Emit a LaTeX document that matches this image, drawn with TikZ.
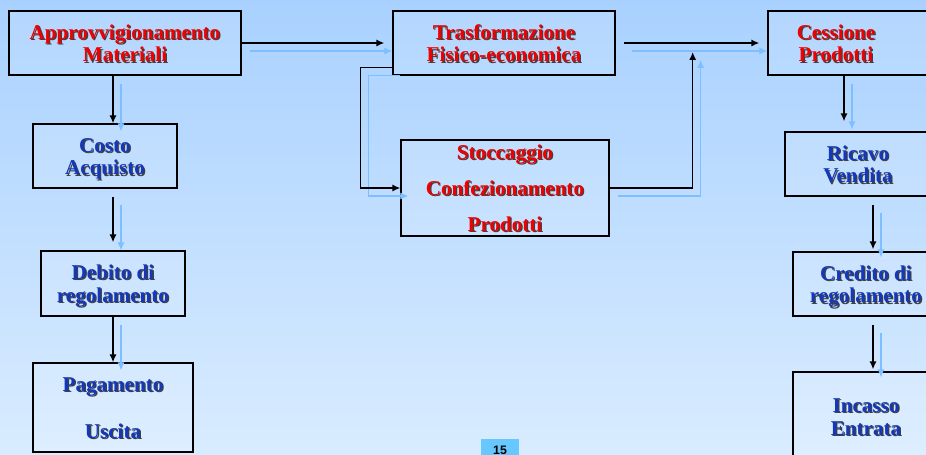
\documentclass[tikz,border=0pt]{standalone}
\usepackage{fontspec}
\setmainfont{Liberation Serif}
\setsansfont{Liberation Sans}
\usetikzlibrary{arrows.meta,calc}
\definecolor{bgtop}{HTML}{A9D1FF}
\definecolor{bgbot}{HTML}{D9ECFF}
\definecolor{shadblue}{HTML}{80BFFF}
\definecolor{redtxt}{HTML}{F00000}
\definecolor{bluetxt}{HTML}{1438B8}
\definecolor{pagebox}{HTML}{66C8FF}
\newcommand\shd[2]{\makebox[0pt][l]{\hspace{0.7pt}\raisebox{-0.7pt}{\color{black!75}#2}}\textcolor{#1}{#2}}
\newcommand\rl[1]{\shd{redtxt}{#1}}
\newcommand\bl[1]{\shd{bluetxt}{#1}}
\newcommand\lines[1]{\raisebox{-1.7pt}[\height][\depth]{\begin{tabular}{@{}c@{}}#1\end{tabular}}}
\newcommand\flow[2][]{\draw[shadowarr,#1,transform canvas={shift={(8,8)}}] #2; \draw[flowarr,#1] #2;}
\tikzset{
  box/.style={draw=black, line width=0.8pt, fill=white, fill opacity=0.12, text opacity=1,
    inner sep=0pt, font=\fontsize{12}{13}\selectfont\bfseries},
  flowarr/.style={black, line width=0.8pt, -{Latex[length=4.5pt,width=4pt]}},
  shadowarr/.style={shadblue, line width=0.6pt, -{Latex[length=4.5pt,width=4pt]}},
  pagenum/.style={fill=pagebox, inner sep=0pt, minimum width=0.76cm, minimum height=0.44cm,
    font=\sffamily\bfseries\fontsize{7}{8}\selectfont}
}
\begin{document}
\begin{tikzpicture}[x=0.02cm, y=-0.02cm]
\useasboundingbox (0,0) rectangle (926,454);
\clip (0,0) rectangle (926,454);
\shade[top color=bgtop, bottom color=bgbot] (0,0) rectangle (926,454);
% top row
\node[box, minimum width=4.64cm, minimum height=1.28cm] (appr) at (125,43)
  {\lines{\rl{Approvvigionamento}\\\rl{Materiali}}};
\node[box, minimum width=4.44cm, minimum height=1.28cm] (trasf) at (504,43)
  {\lines{\rl{Trasformazione}\\\rl{Fisico-economica}}};
\node[box, minimum width=3.44cm, minimum height=1.28cm] (cess) at (854,43)
  {\lines{\rl{Cessione}\\\rl{Prodotti}}\hspace*{0.72cm}};
\node[box, minimum width=4.16cm, minimum height=1.92cm] (stocc) at (505,188)
  {\lines{\rl{Stoccaggio}\\[7.4pt]\rl{Confezionamento}\\[7.4pt]\rl{Prodotti}}};
% left column
\node[box, minimum width=2.88cm, minimum height=1.28cm] (costo) at (105,156)
  {\lines{\bl{Costo}\\\bl{Acquisto}}};
\node[box, minimum width=2.88cm, minimum height=1.30cm] (debito) at (113,283.5)
  {\lines{\bl{Debito di}\\\bl{regolamento}}};
\node[box, minimum width=3.20cm, minimum height=1.78cm] (pagam) at (113,407.5)
  {\lines{\bl{Pagamento}\\[13.6pt]\bl{Uscita}}};
% right column
\node[box, minimum width=2.92cm, minimum height=1.28cm] (ricavo) at (858,164)
  {\lines{\bl{Ricavo}\\\bl{Vendita}}};
\node[box, minimum width=2.92cm, minimum height=1.28cm] (credito) at (866,284)
  {\lines{\bl{Credito di}\\\bl{regolamento}}};
\node[box, minimum width=2.92cm, minimum height=1.78cm] (incasso) at (866,416.5)
  {\lines{\bl{Incasso}\\\bl{Entrata}}};
\node[pagenum] (pg) at (500,450) {15};
% connectors
\flow[shorten >=0.16cm]{(appr.east) -- (trasf.west)};
\flow[shorten <=0.16cm, shorten >=0.16cm]{(trasf.east) -- (cess.west)};
\flow{($(trasf.south west)+(0,-8)$) -- ++(-32,0) |- (stocc.west)};
\flow{(stocc.east) -| ($(trasf.east)+(77,9)$)};
\coordinate (a1) at ($(costo.north)+(8,0)$);
\flow{(a1 |- appr.south) -- (a1)};
\flow[shorten <=0.16cm, shorten >=0.16cm]{(debito.north |- costo.south) -- (debito.north)};
\flow{(debito.south) -- (pagam.north)};
\coordinate (a2) at ($(ricavo.north)+(-14,-10)$);
\flow{(a2 |- cess.south) -- (a2)};
\coordinate (a3) at ($(credito.north)+(7,-2)$);
\flow[shorten <=0.16cm]{(a3 |- ricavo.south) -- (a3)};
\coordinate (a4) at ($(incasso.north)+(7,-2)$);
\flow[shorten <=0.16cm]{(a4 |- credito.south) -- (a4)};
\end{tikzpicture}
\end{document}
